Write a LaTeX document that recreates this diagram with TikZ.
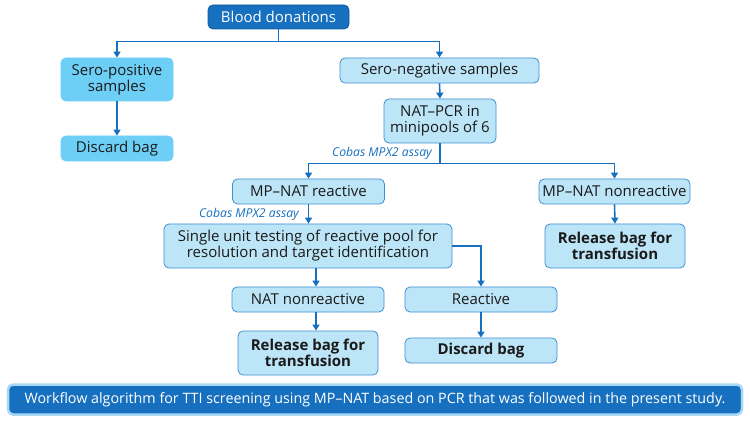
\documentclass[tikz,border=0pt]{standalone}
\usepackage{fontspec}
\setmainfont{Open Sans}
\usetikzlibrary{arrows.meta}
\definecolor{darkb}{HTML}{1670BF}
\definecolor{cyanb}{HTML}{6DCFF6}
\definecolor{lightb}{HTML}{BDE5F8}
\definecolor{edgeb}{HTML}{3F8FD2}
\definecolor{capedge}{HTML}{A8D8F5}
\definecolor{txt}{HTML}{1A1A1A}
\tikzset{
  box/.style={rounded corners=5pt, align=center, inner sep=0pt, font=\fontsize{15}{16}\selectfont, text=txt},
  lbox/.style={box, fill=lightb, draw=edgeb, line width=0.8pt},
  cbox/.style={box, fill=cyanb, draw=cyanb, line width=0.8pt},
  dbox/.style={box, fill=darkb, draw=darkb!80!black, line width=0.8pt, text=white},
  bfont/.style={font=\bfseries\fontsize{15}{16}\selectfont},
  conn/.style={draw=darkb, line width=1.6pt, -{Triangle[width=7pt,length=6pt]}},
  assay/.style={font=\itshape\fontsize{12.2}{13}\selectfont, text=darkb, inner sep=0pt},
}
\begin{document}
\begin{tikzpicture}[x=1pt,y=-1pt]
\useasboundingbox (0,0) rectangle (750,422);
\node[dbox, minimum width=141pt, minimum height=24pt] (bd) at (278.5,17) {Blood donations};
\node[cbox, minimum width=112pt, minimum height=43pt] (sp) at (117,79.5) {Sero-positive\\samples};
\node[cbox, minimum width=112pt, minimum height=25pt] (dl) at (117,148.5) {Discard bag};
\node[lbox, minimum width=199pt, minimum height=25pt] (sn) at (439.5,70.5) {Sero-negative samples};
\node[lbox, minimum width=112pt, minimum height=44pt] (nat) at (440,121) {NAT–PCR in\\minipools of 6};
\node[lbox, minimum width=152pt, minimum height=25pt] (mpr) at (308.5,191.5) {MP–NAT reactive};
\node[lbox, minimum width=151pt, minimum height=25pt] (mpn) at (614.5,191.5) {MP–NAT nonreactive};
\node[lbox, bfont, minimum width=140pt, minimum height=44pt] (rbr) at (615,246) {Release bag for\\transfusion};
\node[lbox, minimum width=288pt, minimum height=44pt] (su) at (308,246) {Single unit testing of reactive pool for\\resolution and target identification};
\node[lbox, minimum width=152pt, minimum height=25pt] (nn) at (308,299.5) {NAT nonreactive};
\node[lbox, bfont, minimum width=140pt, minimum height=44pt] (rbl) at (308,353) {Release bag for\\transfusion};
\node[lbox, minimum width=152pt, minimum height=25pt] (re) at (481,299.5) {Reactive};
\node[lbox, bfont, minimum width=152pt, minimum height=25pt] (dr) at (481,350.5) {Discard bag};
\node[dbox, draw=capedge, line width=2.5pt, minimum width=734pt, minimum height=30pt, font=\fontsize{14.3}{16}\selectfont] (cap) at (375,399.5) {Workflow algorithm for TTI screening using MP–NAT based on PCR that was followed in the present study.};
\node[assay, anchor=east] (as1) at (432,153) {Cobas MPX2 assay};
\node[assay, anchor=east] (as2) at (299,214) {Cobas MPX2 assay};
\draw[conn] (bd.south) -- ++(0,12) -| (sp.north);
\draw[conn] (bd.south) -- ++(0,12) -| (sn.north);
\draw[conn] (sp.south) -- (dl.north);
\draw[conn] (sn.south) -- (nat.north);
\draw[conn] (nat.south) -- ++(0,20) -| (mpr.north);
\draw[conn] (nat.south) -- ++(0,20) -| (mpn.north);
\draw[conn] (mpn.south) -- (rbr.north);
\draw[conn] (mpr.south) -- (su.north -| mpr.south);
\draw[conn] ([xshift=8pt]su.south) -- ([xshift=8pt]nn.north);
\draw[conn] ([xshift=8pt]nn.south) -- ([xshift=8pt]rbl.north);
\draw[conn] (su.east) -| (re.north);
\draw[conn] (re.south) -- (dr.north);
\end{tikzpicture}
\end{document}
